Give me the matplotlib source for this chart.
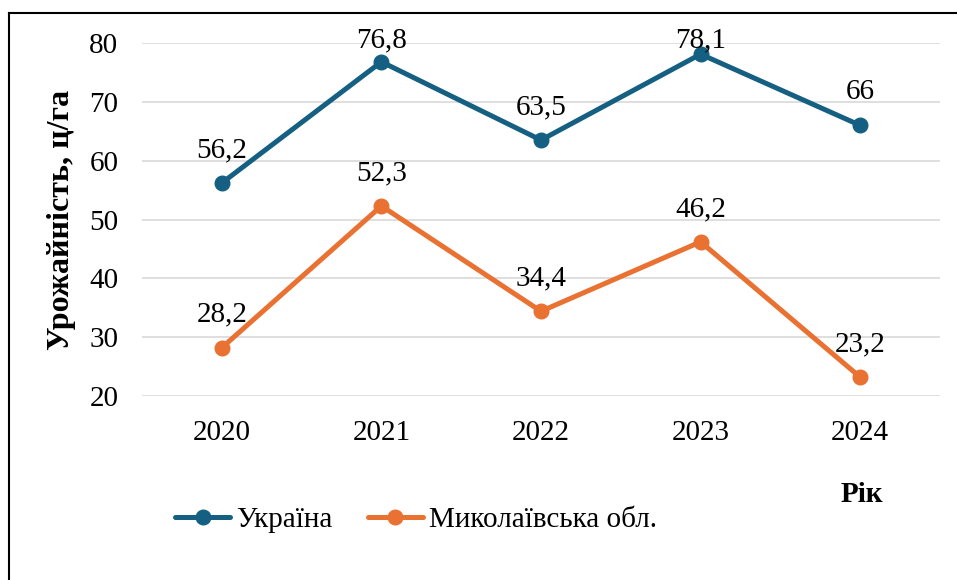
import matplotlib.pyplot as plt
from matplotlib.lines import Line2D

plt.rcParams['font.family'] = ['Liberation Serif', 'DejaVu Serif']

years = ['2020', '2021', '2022', '2023', '2024']
ukraine = [56.2, 76.8, 63.5, 78.1, 66]
mykolaiv = [28.2, 52.3, 34.4, 46.2, 23.2]
series_names = ['Україна', 'Миколаївська обл.']
y_ticks = [20, 30, 40, 50, 60, 70, 80]

colors = ['#156082', '#E97132']
fs = 21

fig = plt.figure(figsize=(9.57, 5.80), dpi=100)
ax = fig.add_axes([142 / 957, 1 - 396 / 580, (940 - 142) / 957, (396 - 43) / 580])

x = list(range(len(years)))
for vals, name, c in zip([ukraine, mykolaiv], series_names, colors):
    ax.plot(x, vals, color=c, lw=3.6, marker='o', markersize=10.5,
            solid_capstyle='round', label=name, zorder=3)
    for xi, v in zip(x, vals):
        # label above the point, kept inside the plot area near the top
        ly = min(v + 5.6, 80.4)
        txt = f'{v:g}'.replace('.', ',')
        ax.text(xi, ly, txt, ha='center', va='center', fontsize=fs, zorder=4,
                clip_on=False)

ax.set_xlim(-0.5, len(years) - 0.5)
ax.set_ylim(20, 80)
ax.set_xticks(x)
ax.set_xticklabels(years)
ax.set_yticks(y_ticks)
ax.tick_params(axis='both', length=0, labelsize=fs)
ax.tick_params(axis='y', pad=17)
ax.tick_params(axis='x', pad=17)
ax.yaxis.grid(True, color='#D9D9D9', lw=1.2)
ax.set_axisbelow(True)
for s in ax.spines.values():
    s.set_visible(False)

fig.text(61 / 957, 1 - 220 / 580, 'Урожайність, ц/га', rotation=90,
         ha='center', va='center', fontsize=23, fontweight='bold')
fig.text(862 / 957, 1 - 494 / 580, 'Рік', ha='center', va='center',
         fontsize=fs, fontweight='bold')

fig.legend(loc='center', bbox_to_anchor=(416 / 957, 1 - 520 / 580), ncol=2,
           frameon=False, fontsize=fs, handlelength=1.9, handletextpad=0.2,
           columnspacing=1.2)

# outer frame (only left and top edges fall inside the picture)
fig.add_artist(Line2D([9 / 957, 9 / 957], [0, 1 - 13 / 580], color='black', lw=1.5))
fig.add_artist(Line2D([9 / 957, 1.01], [1 - 13 / 580, 1 - 13 / 580], color='black', lw=1.5))

fig.savefig('out.png', dpi=100)
